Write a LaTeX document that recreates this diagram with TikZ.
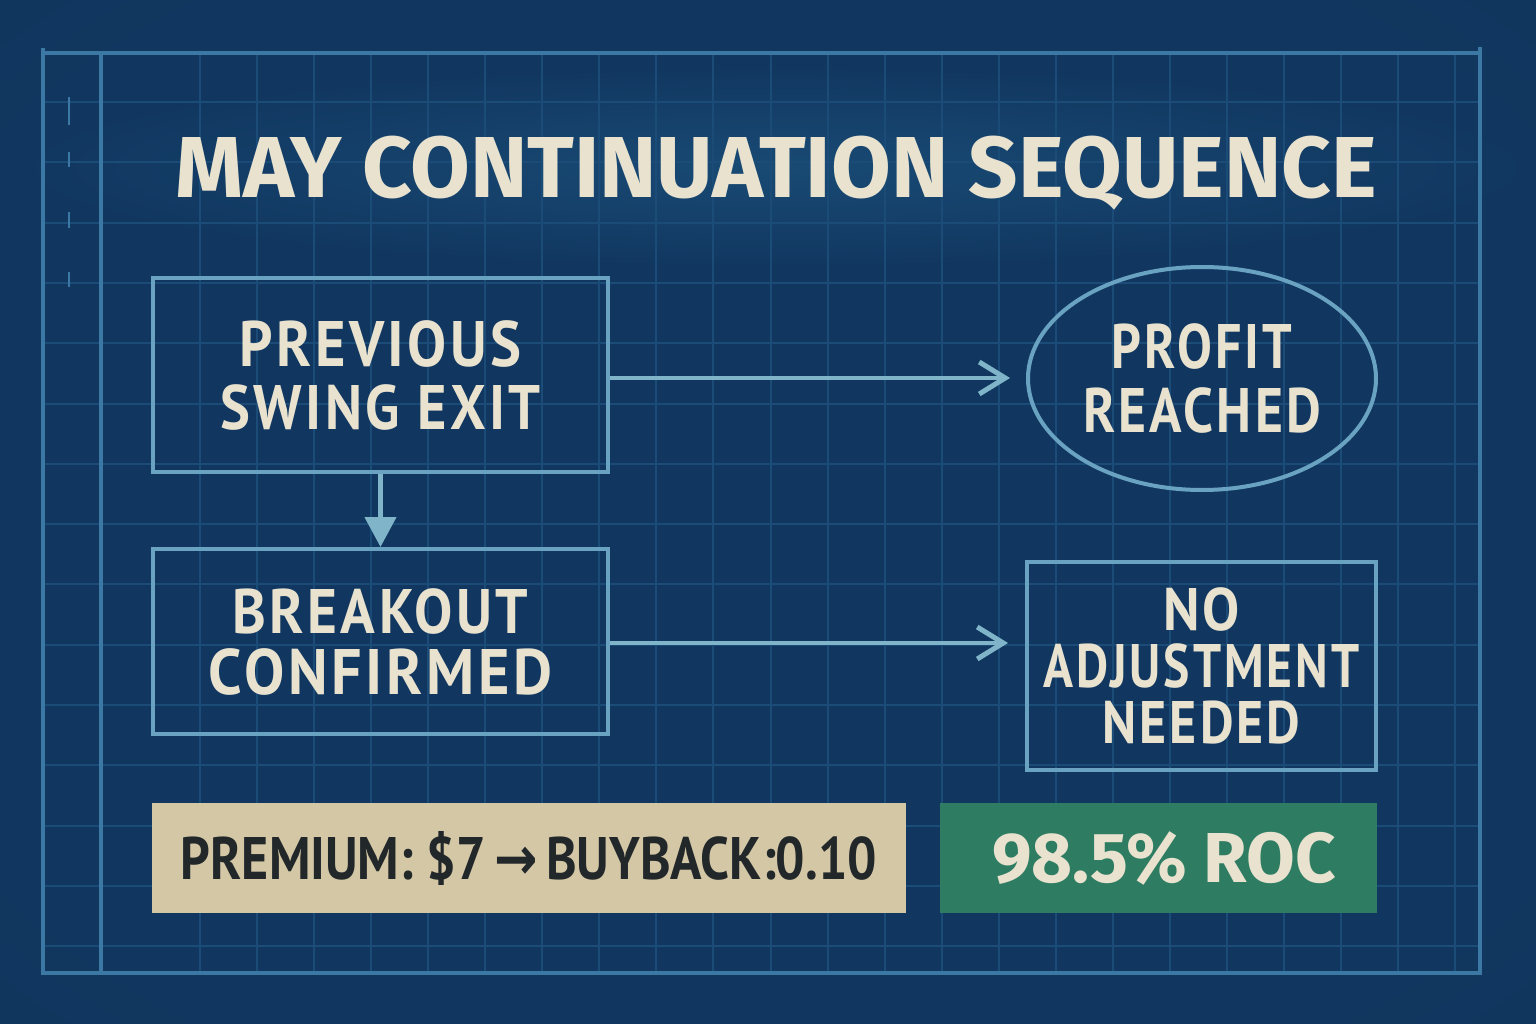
\documentclass[tikz,border=0pt]{standalone}
\usepackage{fontspec}
\usepackage{graphicx}
\usetikzlibrary{arrows.meta,shapes.geometric}
\newfontfamily\titlefont{Fira Sans}
\newfontfamily\labelfont[LetterSpace=6]{PT Sans}
\newfontfamily\premfont{PT Sans}
\newfontfamily\arrowfont{DejaVu Sans}
\definecolor{bgin}{HTML}{113760}
\definecolor{bgmid}{HTML}{0F3358}
\definecolor{bgout}{HTML}{0B2A49}
\definecolor{glowcol}{HTML}{184A74}
\definecolor{gridcol}{HTML}{1B4C78}
\definecolor{framecol}{HTML}{3B79A4}
\definecolor{boxcol}{HTML}{6AA3C2}
\definecolor{arrowcol}{HTML}{7FB4C9}
\definecolor{creamcol}{HTML}{E8E2CF}
\definecolor{tancol}{HTML}{D3C7A6}
\definecolor{inkcol}{HTML}{22272A}
\definecolor{greencol}{HTML}{2E7C62}
\pgfdeclareradialshading{vign}{\pgfpoint{0bp}{0bp}}{color(0bp)=(bgin); color(30bp)=(bgin); color(50bp)=(bgmid); color(71bp)=(bgout)}
\newcommand\fitt[3]{\resizebox{#1pt}{#2pt}{\smash{#3}\vphantom{H}}}
\tikzset{
  flowbox/.style={draw=boxcol, line width=4pt, rectangle, inner sep=0pt, align=center, text=creamcol,
    font=\labelfont\bfseries\fontsize{40}{63}\selectfont},
  flowellipse/.style={draw=boxcol, line width=4pt, ellipse, inner sep=0pt, align=center, text=creamcol,
    font=\labelfont\bfseries\fontsize{40}{64}\selectfont},
  flowarrow/.style={draw=arrowcol, line width=4.5pt, -{Straight Barb[length=26pt,width=32pt,line width=5pt]}},
  downarrow/.style={draw=arrowcol, line width=4.5pt, -{Triangle[length=30pt,width=31pt]}},
  gridline/.style={draw=gridcol, line width=2pt},
  frameline/.style={draw=framecol, line width=4pt},
}
\begin{document}
\begin{tikzpicture}[x=1pt,y=-1pt]
\useasboundingbox (0,0) rectangle (1536,1024);
\shade[shading=vign] (0,0) rectangle (1536,1024);
\shade[inner color=glowcol, outer color=bgin] (776.5,167) ellipse [x radius=760pt, y radius=100pt];
% grid
\foreach \k in {0,...,22} {
  \draw[gridline] ({200+57.05*\k},55) -- ({200+57.05*\k},973);
}
\foreach \k in {0,...,14} {
  \draw[gridline] (45,{102+60.3*\k}) -- (1478,{102+60.3*\k});
}
% frame
\draw[frameline] (43,48) -- (43,973) -- (1480,973) -- (1480,47);
\draw[frameline] (41,53) -- (1482,53);
\draw[frameline] (101,55) -- (101,973);
\foreach \a/\b in {97/125, 152/167, 212/228, 272/287} {
  \draw[framecol, line width=2.5pt] (69,\a) -- (69,\b);
}
% title
\node[text=creamcol, inner sep=0pt, font=\titlefont\bfseries\fontsize{60}{72}\selectfont] (title) at (776.5,167)
  {\fitt{1201}{60}{MAY CONTINUATION SEQUENCE}};
% flow nodes
\node[flowbox, minimum width=455pt, minimum height=194pt] (b1) at (380.5,375)
  {\fitt{282}{45}{PREVIOUS}\\\fitt{320}{44}{SWING EXIT}};
\node[flowbox, minimum width=455pt, minimum height=185pt, font=\labelfont\bfseries\fontsize{40}{61}\selectfont] (b2) at (380.5,641.5)
  {\fitt{296}{44}{BREAKOUT}\\\fitt{343}{45}{CONFIRMED}};
\node[flowellipse, minimum width=348pt, minimum height=223pt] (ell) at (1202,378.5)
  {\fitt{181}{44}{PROFIT}\\\fitt{238}{44}{REACHED}};
\node[flowbox, minimum width=349pt, minimum height=208pt, font=\labelfont\bfseries\fontsize{40}{56.5}\selectfont] (b3) at (1201.5,666)
  {\fitt{77}{42}{NO}\\\fitt{316}{43}{ADJUSTMENT}\\\fitt{198}{42}{NEEDED}};
% connectors
\draw[flowarrow, shorten >=16pt] ([yshift=-3pt]b1.east) -- ([yshift=-3pt]b1.east -| ell.west);
\draw[flowarrow, shorten >=17pt] ([yshift=-1.5pt]b2.east) -- ([yshift=-1.5pt]b2.east -| b3.west);
\draw[downarrow] (b1.south) -- (b2.north);
% bottom bars
\node[fill=tancol, draw=none, minimum width=754pt, minimum height=110pt, inner sep=0pt, text=inkcol,
  font=\premfont\bfseries\fontsize{40}{48}\selectfont] (prem) at (529,858)
  {\fitt{696}{42}{PREMIUM: \$7\,{\arrowfont →}\,BUYBACK:0.10}};
\node[fill=greencol, draw=none, minimum width=437pt, minimum height=110pt, inner sep=0pt, text=creamcol,
  font=\titlefont\bfseries\fontsize{40}{48}\selectfont] (roc) at (1158.5,858)
  {\hspace{11pt}\fitt{344}{49}{98.5\% ROC}};
\end{tikzpicture}
\end{document}
